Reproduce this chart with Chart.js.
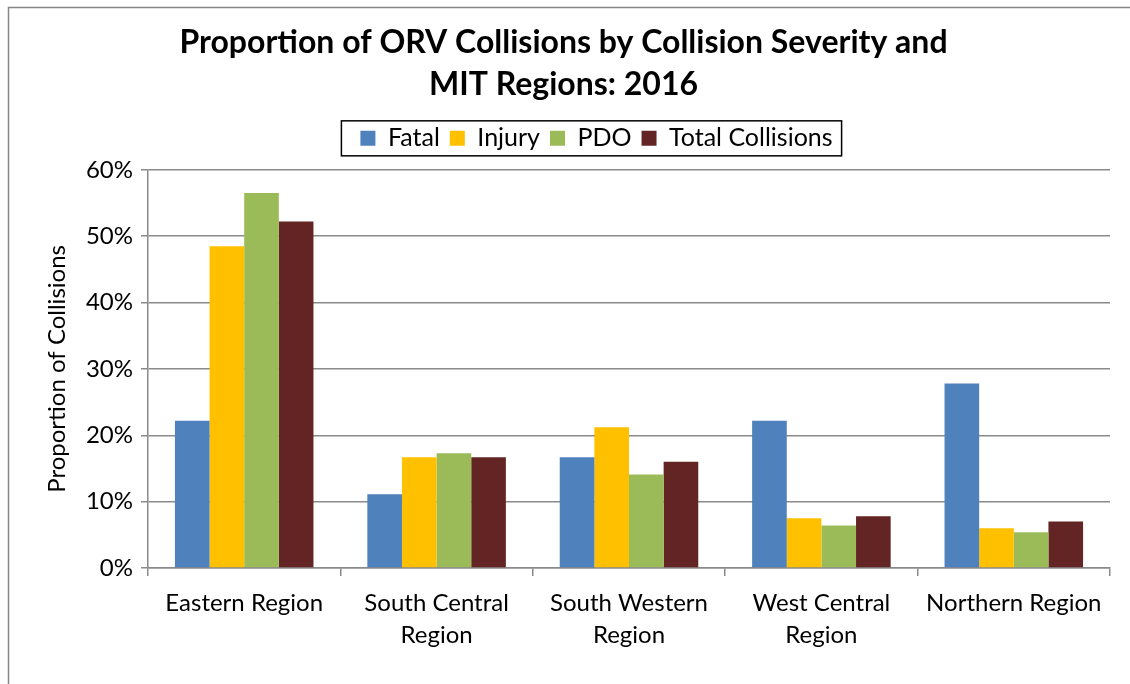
<!DOCTYPE html>
<html>
<head>
<meta charset="utf-8">
<script src="https://cdn.jsdelivr.net/npm/chart.js@4"></script>
<style>
  html, body { margin: 0; padding: 0; background: #fff; }
  #wrap { width: 1130px; height: 684px; }
</style>
</head>
<body>
<div id="wrap"><canvas id="barChart" width="1130" height="684"></canvas></div>
<script>
// regions on the x axis (two-line labels where the text wraps)
var regions = [
  'Eastern Region',
  ['South Central', 'Region'],
  ['South Western', 'Region'],
  ['West Central', 'Region'],
  'Northern Region'
];
// share of collisions in each region, in percent
var fatal = [22.2, 11.1, 16.7, 22.2, 27.8];
var injury = [48.5, 16.7, 21.2, 7.5, 6.0];
var pdo = [56.5, 17.3, 14.1, 6.4, 5.4];
var totalCollisions = [52.2, 16.7, 16.0, 7.8, 7.0];

var FONT = 'Lato';
var GRID = '#8a8a8a';

// white background plus the outer gray frame
var frame = {
  id: 'frame',
  beforeDraw: function (chart) {
    var ctx = chart.ctx;
    ctx.save();
    ctx.fillStyle = '#fff';
    ctx.fillRect(0, 0, chart.width, chart.height);
    ctx.strokeStyle = '#868686';
    ctx.lineWidth = 1.5;
    ctx.strokeRect(8.5, 7.5, 1300, 900);
    ctx.restore();
  }
};

// nudge title and legend sideways, add room under the legend, box the legend
var legendBox = {
  id: 'legendBox',
  afterInit: function (chart) {
    var legend = chart.legend;
    var fit = legend.fit;
    legend.fit = function () {
      fit.call(this);
      this.height += 9;
    };
  },
  afterLayout: function (chart) {
    chart.titleBlock.left -= 13;
    chart.titleBlock.right -= 13;
    chart.legend.left += 20;
    chart.legend.right += 20;
  },
  afterDraw: function (chart) {
    var boxes = chart.legend.legendHitBoxes;
    if (!boxes || !boxes.length) return;
    var left = Infinity, right = -Infinity, top = Infinity, bottom = -Infinity;
    boxes.forEach(function (b) {
      left = Math.min(left, b.left);
      right = Math.max(right, b.left + b.width);
      top = Math.min(top, b.top);
      bottom = Math.max(bottom, b.top + b.height);
    });
    var mid = (top + bottom) / 2;
    var ctx = chart.ctx;
    ctx.save();
    ctx.strokeStyle = '#000';
    ctx.lineWidth = 1.5;
    ctx.strokeRect(left - 19, mid - 17.5, right - left + 28, 35);
    ctx.restore();
  }
};

new Chart(document.getElementById('barChart'), {
  type: 'bar',
  data: {
    labels: regions,
    datasets: [
      { label: 'Fatal', data: fatal, backgroundColor: '#4F81BD' },
      { label: 'Injury', data: injury, backgroundColor: '#FFC000' },
      { label: 'PDO', data: pdo, backgroundColor: '#9BBB59' },
      { label: 'Total Collisions', data: totalCollisions, backgroundColor: '#632523' }
    ]
  },
  options: {
    responsive: false,
    animation: false,
    devicePixelRatio: 1,
    layout: { padding: { top: 12, left: 43, right: 20, bottom: 10 } },
    datasets: { bar: { categoryPercentage: 0.72, barPercentage: 1.0 } },
    plugins: {
      title: {
        display: true,
        text: ['Proportion of ORV Collisions by Collision Severity and', 'MIT Regions: 2016'],
        color: '#000',
        font: { family: FONT, size: 32, weight: 'bold', lineHeight: 1.31 },
        padding: { top: 10, bottom: 10 }
      },
      legend: {
        position: 'top',
        labels: {
          color: '#000',
          font: { family: FONT, size: 25 },
          boxWidth: 15,
          boxHeight: 15,
          padding: 10
        }
      },
      tooltip: { enabled: false }
    },
    scales: {
      x: {
        grid: { display: true, drawOnChartArea: false, drawTicks: true, tickLength: 8, color: GRID, lineWidth: 1.5 },
        border: { color: GRID, width: 1.5 },
        ticks: { color: '#000', font: { family: FONT, size: 24, lineHeight: 1.33 }, maxRotation: 0, autoSkip: false, padding: 11 },
        afterFit: function (scale) { scale.height = 106; }
      },
      y: {
        min: 0,
        max: 60,
        grid: { color: GRID, lineWidth: 1.5, tickLength: 7 },
        border: { color: GRID, width: 1.5 },
        ticks: {
          stepSize: 10,
          color: '#000',
          font: { family: FONT, size: 24 },
          padding: 8,
          callback: function (v) { return v + '%'; }
        },
        title: {
          display: true,
          text: 'Proportion of Collisions',
          color: '#000',
          font: { family: FONT, size: 24 },
          padding: { top: 0, bottom: 6 }
        },
        afterFit: function (scale) { scale.width = 105; }
      }
    }
  },
  plugins: [frame, legendBox]
});
</script>
</body>
</html>
